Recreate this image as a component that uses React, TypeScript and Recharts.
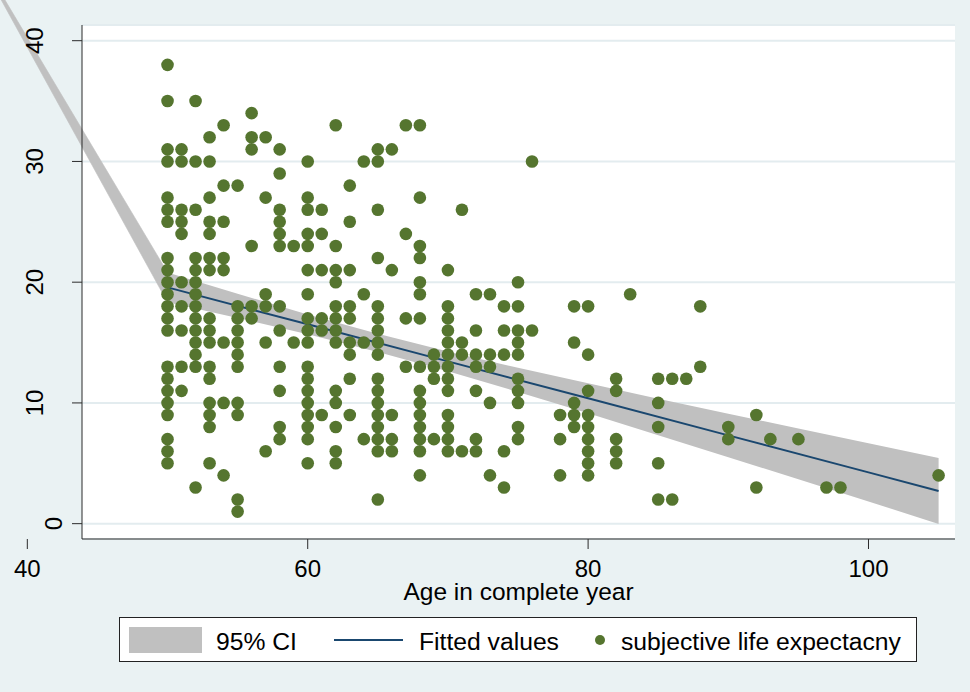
import React from 'react';
import {
  ComposedChart,
  XAxis,
  YAxis,
  CartesianGrid,
  Area,
  Line,
  Scatter,
  ReferenceArea,
  Legend,
} from 'recharts';

const BG = '#EAF2F3';
const GRID = '#E3ECEF';
const AXIS = '#2b2b2b';
const CI_FILL = '#C0C0C0';
const FIT = '#1A476F';
const DOT = '#55752F';
const FONT = '"Liberation Sans", Arial, Helvetica, sans-serif';

// axes
const xTicks = [40, 60, 80, 100];
const yTicks = [0, 10, 20, 30, 40];
const xDomain: [number, number] = [43.9, 106.17];
const yDomain: [number, number] = [-1.27, 41.3];
const xTitle = 'Age in complete year';

// observed ages and the subjective life expectancy values at each age
const ageGroups = [
  50, 51, 52, 53, 54, 55, 56, 57, 58, 59, 60, 61, 62, 63, 64, 65, 66, 67, 68, 69, 70, 71, 72, 73, 74,
  75, 76, 78, 79, 80, 82, 83, 85, 86, 87, 88, 90, 92, 93, 95, 97, 98, 105,
];
const lifeByAge = [
  [38, 35, 31, 30, 27, 26, 25, 22, 21, 20, 19, 18, 17, 16, 13, 12, 11, 10, 9, 7, 6, 5],
  [31, 30, 26, 25, 24, 20, 18, 16, 13, 11],
  [35, 30, 26, 22, 21, 20, 19, 18, 17, 16, 15, 14, 13, 3],
  [32, 30, 27, 25, 24, 22, 21, 17, 16, 15, 13, 12, 10, 9, 8, 5],
  [33, 28, 25, 22, 21, 15, 10, 4],
  [28, 18, 17, 16, 15, 14, 13, 10, 9, 2, 1],
  [34, 32, 31, 23, 18, 17],
  [32, 27, 19, 18, 15, 6],
  [31, 29, 26, 25, 24, 23, 18, 16, 13, 11, 8, 7],
  [23, 15],
  [30, 27, 26, 24, 23, 21, 19, 17, 16, 15, 13, 12, 11, 10, 9, 8, 7, 5],
  [26, 24, 21, 17, 16, 9],
  [33, 23, 21, 20, 18, 17, 16, 15, 11, 10, 8, 6, 5],
  [28, 25, 21, 18, 17, 15, 14, 12, 9],
  [30, 19, 15, 7],
  [31, 30, 26, 22, 18, 17, 16, 15, 14, 12, 11, 10, 9, 8, 7, 6, 2],
  [31, 21, 9, 7, 6],
  [33, 24, 17, 13],
  [33, 27, 23, 22, 20, 19, 17, 13, 11, 10, 9, 8, 7, 6, 4],
  [14, 13, 12, 7],
  [21, 18, 17, 16, 15, 14, 13, 12, 11, 9, 8, 7, 6],
  [26, 15, 14, 6],
  [19, 16, 14, 13, 11, 7, 6],
  [19, 14, 13, 10, 4],
  [18, 16, 14, 6, 3],
  [20, 18, 16, 15, 14, 12, 11, 10, 8, 7],
  [30, 16],
  [9, 7, 4],
  [18, 15, 10, 9, 8],
  [18, 14, 11, 9, 8, 7, 6, 5, 4],
  [12, 11, 7, 6, 5],
  [19],
  [12, 10, 8, 5, 2],
  [12, 2],
  [12],
  [18, 13],
  [8, 7],
  [9, 3],
  [7],
  [7],
  [3],
  [3],
  [4],
];

// fitted values
const fitAges = [50, 60, 70, 80, 90, 100, 105];
const fitValues = [19.57, 16.51, 13.44, 10.38, 7.31, 4.25, 2.71];

// 95% confidence interval
const ciAges = [50, 55, 60, 65, 70, 75, 80, 85, 90, 95, 100, 105];
const ciUpper = [20.81, 19.04, 17.33, 15.72, 14.26, 12.91, 11.62, 10.35, 9.11, 7.89, 6.66, 5.44];
const ciLower = [18.33, 17.04, 15.69, 14.22, 12.62, 10.91, 9.14, 7.33, 5.51, 3.67, 1.84, -0.02];

// stray CI polygon segment that runs off to the upper left
const strayAges = [35, 50, 50];
const strayValues = [50, 20.81, 18.33];

const legendLabels = ['95% CI', 'Fitted values', 'subjective life expectacny'];

const scatterRows = ageGroups.flatMap((age, i) => lifeByAge[i].map((v) => ({ x: age, y: v })));
const fitRows = fitAges.map((a, i) => ({ x: a, y: fitValues[i] }));
const ciRows = ciAges.map((a, i) => ({ x: a, y: [ciLower[i], ciUpper[i]] }));

const strayX0 = Math.min(...strayAges);
const strayX1 = Math.max(...strayAges);
const strayY0 = Math.min(...strayValues);
const strayY1 = Math.max(...strayValues);

function StrayBand(props: any) {
  const { x, y, width, height } = props;
  const sx = (v: number) => x + ((v - strayX0) / (strayX1 - strayX0)) * width;
  const sy = (v: number) => y + ((strayY1 - v) / (strayY1 - strayY0)) * height;
  const pts = strayAges.map((a, i) => `${sx(a)},${sy(strayValues[i])}`).join(' ');
  return <polygon points={pts} fill={CI_FILL} stroke={CI_FILL} strokeWidth={0.6} />;
}

function XTick(props: any) {
  const { x, y, payload } = props;
  return (
    <text x={x} y={y} dy={17} textAnchor="middle" fontSize={24} fontFamily={FONT} fill="#000">
      {payload.value}
    </text>
  );
}

function YTick(props: any) {
  const { x, y, payload } = props;
  const label = String(payload.value);
  const bx = x + (2 - label.length) * 19;
  return (
    <text
      transform={`translate(${bx},${y}) rotate(-90)`}
      textAnchor="middle"
      fontSize={24}
      fontFamily={FONT}
      fill="#000"
    >
      {label}
    </text>
  );
}

function XTitle(props: any) {
  const vb = props.viewBox || {};
  return (
    <text
      x={vb.x + vb.width / 2}
      y={vb.y + vb.height - 1}
      textAnchor="middle"
      fontSize={24.5}
      fontFamily={FONT}
      fill="#000"
    >
      {xTitle}
    </text>
  );
}

function LegendBox() {
  const text: React.CSSProperties = {
    position: 'absolute',
    top: 12,
    fontSize: 24.7,
    lineHeight: '24px',
    fontFamily: FONT,
    color: '#000',
    whiteSpace: 'nowrap',
  };
  return (
    <div
      style={{
        position: 'relative',
        width: 798,
        height: 45,
        boxSizing: 'border-box',
        border: '1px solid #222',
        background: '#fff',
      }}
    >
      <div style={{ position: 'absolute', left: 9, top: 9, width: 73, height: 26, background: CI_FILL }} />
      <span style={{ ...text, left: 96 }}>{legendLabels[0]}</span>
      <div style={{ position: 'absolute', left: 214, top: 21, width: 69, height: 2, background: FIT }} />
      <span style={{ ...text, left: 299 }}>{legendLabels[1]}</span>
      <div
        style={{ position: 'absolute', left: 475, top: 17, width: 10, height: 10, borderRadius: 5, background: DOT }}
      />
      <span style={{ ...text, left: 501 }}>{legendLabels[2]}</span>
    </div>
  );
}

export default function App() {
  return (
    <div style={{ position: 'absolute', left: 0, top: 0, width: 970, height: 692, background: BG }}>
      <ComposedChart width={970} height={692} margin={{ top: 25, right: 15, bottom: 91, left: 22 }}>
        <CartesianGrid horizontal vertical={false} fill="#ffffff" stroke={GRID} strokeWidth={2} />
        <XAxis
          type="number"
          dataKey="x"
          domain={xDomain}
          allowDataOverflow
          ticks={xTicks}
          interval={0}
          tickSize={10}
          tickMargin={11}
          height={62}
          axisLine={{ stroke: AXIS, strokeWidth: 1 }}
          tickLine={{ stroke: AXIS, strokeWidth: 1 }}
          tick={<XTick />}
          label={<XTitle />}
        />
        <YAxis
          type="number"
          dataKey="y"
          domain={yDomain}
          allowDataOverflow
          ticks={yTicks}
          interval={0}
          tickSize={10}
          tickMargin={29}
          width={60}
          axisLine={{ stroke: AXIS, strokeWidth: 1 }}
          tickLine={{ stroke: AXIS, strokeWidth: 1 }}
          tick={<YTick />}
        />
        <ReferenceArea
          x1={strayX0}
          x2={strayX1}
          y1={strayY0}
          y2={strayY1}
          ifOverflow="visible"
          shape={StrayBand}
        />
        <Area
          data={ciRows}
          dataKey="y"
          type="linear"
          stroke="none"
          fill={CI_FILL}
          fillOpacity={1}
          isAnimationActive={false}
          name={legendLabels[0]}
        />
        <Line
          data={fitRows}
          dataKey="y"
          type="linear"
          stroke={FIT}
          strokeWidth={2}
          dot={false}
          isAnimationActive={false}
          name={legendLabels[1]}
        />
        <Scatter
          data={scatterRows}
          dataKey="y"
          fill={DOT}
          isAnimationActive={false}
          name={legendLabels[2]}
          shape={(p: any) => <circle cx={p.cx} cy={p.cy} r={6.3} fill={DOT} />}
        />
        <Legend
          verticalAlign="middle"
          align="center"
          layout="horizontal"
          wrapperStyle={{ position: 'absolute', left: 119, top: 617, width: 798, height: 45, margin: 0 }}
          content={<LegendBox />}
        />
      </ComposedChart>
    </div>
  );
}
